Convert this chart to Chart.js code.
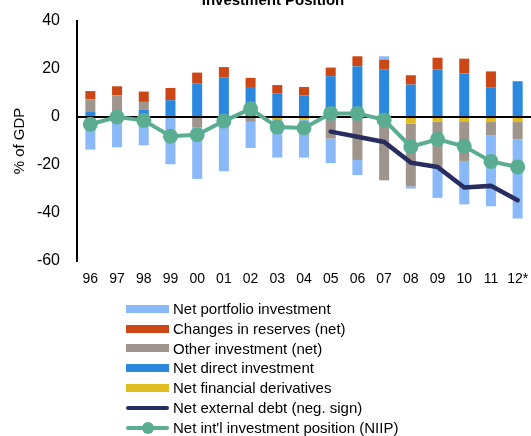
<!DOCTYPE html>
<html>
<head>
<meta charset="utf-8">
<script src="https://cdn.jsdelivr.net/npm/chart.js@4.4.1/dist/chart.umd.min.js"></script>
<style>
    html, body { margin: 0; padding: 0; background: #fff; }
    #wrap { position: relative; width: 531px; height: 436px; overflow: hidden; font-family: "Liberation Sans", Arial, sans-serif; }
    #chart-title { position: absolute; top: -8px; left: 273px; transform: translateX(-50%); font-size: 15px; line-height: 15px; font-weight: bold; white-space: nowrap; color: #000; }
    #legend { position: absolute; left: 126px; top: 299px; font-size: 15px; color: #000; }
    #legend .row { height: 19.8px; line-height: 19.8px; display: flex; align-items: center; white-space: nowrap; }
    #legend .sw { position: relative; width: 43px; height: 19.8px; margin-right: 4px; flex: none; }
    #legend .sw span { position: absolute; left: 0; right: 0; }
    #legend .sw i { position: absolute; left: 50%; top: 50%; width: 12px; height: 12px; margin: -6px 0 0 -6px; border-radius: 50%; }
</style>
</head>
<body>
<div id="wrap">
    <canvas id="iip-chart" width="531" height="436"></canvas>
    <div id="chart-title">Investment Position</div>
    <div id="legend"></div>
</div>
<script>
const YEARS = ["96", "97", "98", "99", "00", "01", "02", "03", "04", "05", "06", "07", "08", "09", "10", "11", "12*"];

// % of GDP
const DIRECT = [2.1, 0.3, 3.1, 7.0, 13.9, 16.4, 12.5, 9.7, 9.0, 17.0, 21.1, 19.7, 13.5, 19.9, 18.1, 12.2, 14.9];
const DERIVATIVES = [0, 0, 0, 0, 0, 0, 0, -0.8, -1.0, -0.8, -0.3, 0, -2.8, -1.9, -1.8, -2.1, -2.1];
const OTHER = [5.3, 8.7, 3.2, 0, -4.4, 0, -2.0, 0, 0, -8.2, -17.6, -26.4, -26.1, -18.9, -16.5, -5.5, -7.2];
const RESERVES = [3.4, 3.8, 4.3, 5.1, 4.6, 4.4, 3.8, 3.6, 3.5, 3.6, 4.2, 4.2, 3.9, 4.8, 6.2, 6.8, 0];
const PORTFOLIO = [-13.6, -12.6, -11.8, -19.7, -21.4, -22.6, -10.9, -16.1, -15.9, -10.2, -6.3, 1.4, -0.9, -12.9, -18.1, -29.6, -33.0];
const EXT_DEBT = [null, null, null, null, null, null, null, null, null, -6.1, -8.2, -10.4, -19.0, -20.8, -29.4, -28.7, -34.7];
const NIIP = [-3.0, 0, -1.4, -8.0, -7.4, -1.7, 3.4, -4.2, -4.6, 1.5, 1.5, -1.2, -12.4, -9.3, -12.2, -18.5, -20.8];

const Y_TICKS = [40, 20, 0, -20, -40, -60];

const FONT = "'Liberation Sans', Arial, sans-serif";

function bar(label, data, color, legendRank) {
    return {
        type: "bar",
        label,
        data,
        backgroundColor: color,
        borderWidth: 0,
        barPercentage: 0.75,
        categoryPercentage: 0.5,
        stack: "bars",
        legendRank,
    };
}

// lines first so they are drawn on top of the bars
const datasets = [
    {
        type: "line",
        label: "Net int'l investment position (NIIP)",
        data: NIIP,
        borderColor: "#5aad91",
        backgroundColor: "#5aad91",
        borderWidth: 4,
        pointRadius: 7.5,
        pointBorderWidth: 0,
        stack: "niip",
        legendRank: 6,
    },
    {
        type: "line",
        label: "Net external debt (neg. sign)",
        data: EXT_DEBT,
        borderColor: "#282d60",
        backgroundColor: "#282d60",
        borderWidth: 4.5,
        borderCapStyle: "round",
        pointRadius: 0,
        stack: "debt",
        legendRank: 5,
    },
    bar("Net direct investment", DIRECT, "#2a88de", 3),
    bar("Net financial derivatives", DERIVATIVES, "#e2bd1f", 4),
    bar("Other investment (net)", OTHER, "#a0958c", 2),
    bar("Changes in reserves (net)", RESERVES, "#cd4615", 1),
    bar("Net portfolio investment", PORTFOLIO, "#8ab9fa", 0),
];

const chart = new Chart(document.getElementById("iip-chart"), {
    data: { labels: YEARS, datasets },
    options: {
        responsive: false,
        animation: false,
        layout: { autoPadding: false, padding: { top: 21, left: 7, right: 0, bottom: 145 } },
        plugins: {
            legend: { display: false },
            tooltip: { enabled: false },
        },
        scales: {
            x: {
                stacked: true,
                grid: { display: false, drawTicks: false },
                border: { display: false },
                ticks: { color: "#000", font: { family: FONT, size: 14 }, padding: 10, maxRotation: 0, autoSkip: false },
                afterFit(scale) {
                    scale.height = 30;
                    scale.paddingLeft = 0;
                    scale.paddingRight = 0;
                },
            },
            y: {
                stacked: true,
                min: -60,
                max: 40,
                afterBuildTicks(scale) { scale.ticks = Y_TICKS.map(value => ({ value })); },
                grid: {
                    drawTicks: false,
                    lineWidth: 2,
                    color: ctx => ctx.tick && ctx.tick.value === 0 ? "#000" : "rgba(0,0,0,0)",
                },
                border: { display: true, color: "#000", width: 2 },
                ticks: { color: "#000", font: { family: FONT, size: 16 }, padding: 17 },
                title: { display: true, text: "% of GDP", color: "#000", font: { family: FONT, size: 15 }, padding: { top: 4, bottom: 4 } },
                afterFit(scale) {
                    scale.width = 70;
                    scale.paddingTop = 0;
                    scale.paddingBottom = 0;
                },
            },
        },
    },
});

// legend, one entry per row, in the order of the original
const legendEl = document.getElementById("legend");
chart.data.datasets
    .slice()
    .sort((a, b) => a.legendRank - b.legendRank)
    .forEach(ds => {
        const row = document.createElement("div");
        row.className = "row";
        const sw = document.createElement("div");
        sw.className = "sw";
        const line = document.createElement("span");
        if (ds.type === "bar") {
            line.style.top = "5.9px";
            line.style.height = "8px";
            line.style.background = ds.backgroundColor;
        } else {
            line.style.top = "7.9px";
            line.style.height = "4px";
            line.style.borderRadius = "2px";
            line.style.background = ds.borderColor;
        }
        sw.appendChild(line);
        if (ds.pointRadius > 0) {
            const dot = document.createElement("i");
            dot.style.background = ds.backgroundColor;
            sw.appendChild(dot);
        }
        row.appendChild(sw);
        row.appendChild(document.createTextNode(ds.label));
        legendEl.appendChild(row);
    });
</script>
</body>
</html>
